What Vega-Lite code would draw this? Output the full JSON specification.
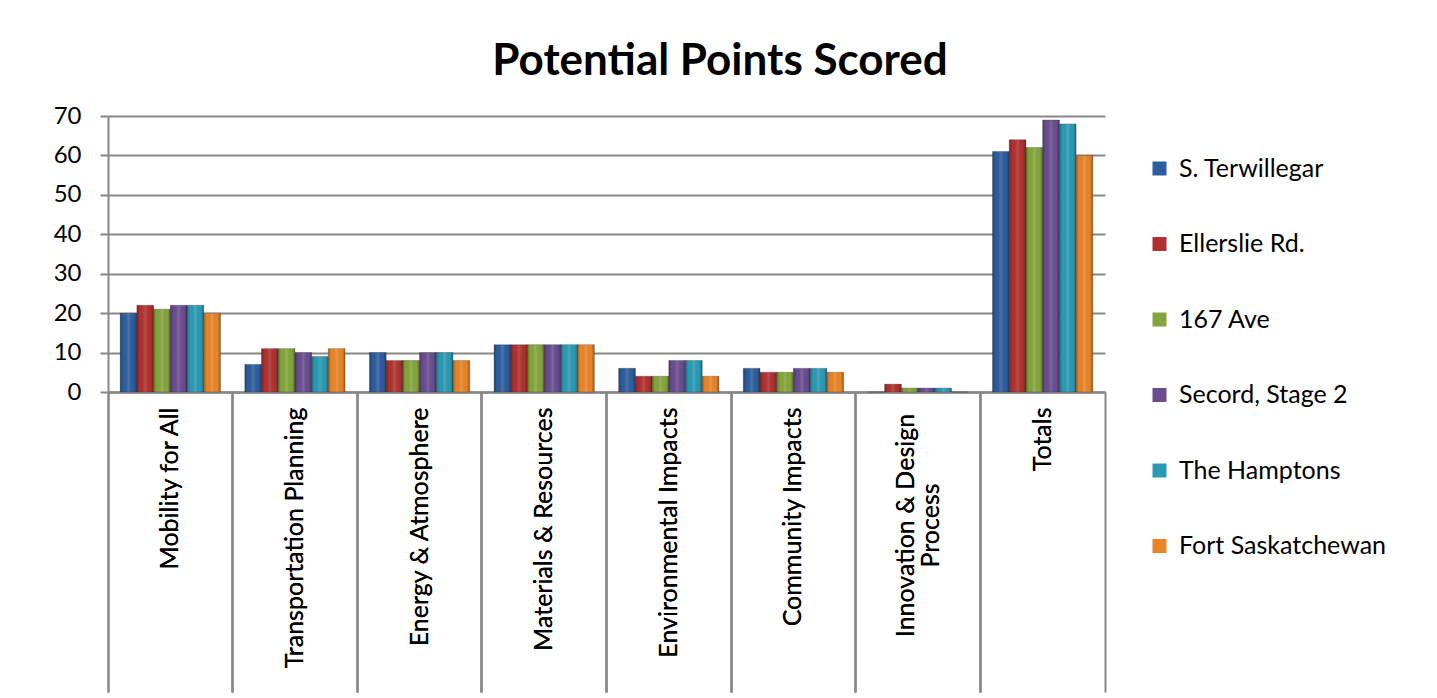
{
  "$schema": "https://vega.github.io/schema/vega-lite/v6.json",
  "width": 997,
  "height": 276,
  "padding": {"left": 53, "top": 40, "right": 0, "bottom": 0},
  "background": "white",
  "title": {
    "text": "Potential Points Scored",
    "font": "Lato",
    "fontSize": 44,
    "fontWeight": "bold",
    "color": "black",
    "anchor": "middle",
    "frame": "bounds",
    "offset": 20
  },
  "data": {
    "values": [
      {"category": "Mobility for All", "site": "S. Terwillegar", "points": 20},
      {"category": "Mobility for All", "site": "Ellerslie Rd.", "points": 22},
      {"category": "Mobility for All", "site": "167 Ave", "points": 21},
      {"category": "Mobility for All", "site": "Secord, Stage 2", "points": 22},
      {"category": "Mobility for All", "site": "The Hamptons", "points": 22},
      {"category": "Mobility for All", "site": "Fort Saskatchewan", "points": 20},
      {"category": "Transportation Planning", "site": "S. Terwillegar", "points": 7},
      {"category": "Transportation Planning", "site": "Ellerslie Rd.", "points": 11},
      {"category": "Transportation Planning", "site": "167 Ave", "points": 11},
      {"category": "Transportation Planning", "site": "Secord, Stage 2", "points": 10},
      {"category": "Transportation Planning", "site": "The Hamptons", "points": 9},
      {"category": "Transportation Planning", "site": "Fort Saskatchewan", "points": 11},
      {"category": "Energy & Atmosphere", "site": "S. Terwillegar", "points": 10},
      {"category": "Energy & Atmosphere", "site": "Ellerslie Rd.", "points": 8},
      {"category": "Energy & Atmosphere", "site": "167 Ave", "points": 8},
      {"category": "Energy & Atmosphere", "site": "Secord, Stage 2", "points": 10},
      {"category": "Energy & Atmosphere", "site": "The Hamptons", "points": 10},
      {"category": "Energy & Atmosphere", "site": "Fort Saskatchewan", "points": 8},
      {"category": "Materials & Resources", "site": "S. Terwillegar", "points": 12},
      {"category": "Materials & Resources", "site": "Ellerslie Rd.", "points": 12},
      {"category": "Materials & Resources", "site": "167 Ave", "points": 12},
      {"category": "Materials & Resources", "site": "Secord, Stage 2", "points": 12},
      {"category": "Materials & Resources", "site": "The Hamptons", "points": 12},
      {"category": "Materials & Resources", "site": "Fort Saskatchewan", "points": 12},
      {"category": "Environmental Impacts", "site": "S. Terwillegar", "points": 6},
      {"category": "Environmental Impacts", "site": "Ellerslie Rd.", "points": 4},
      {"category": "Environmental Impacts", "site": "167 Ave", "points": 4},
      {"category": "Environmental Impacts", "site": "Secord, Stage 2", "points": 8},
      {"category": "Environmental Impacts", "site": "The Hamptons", "points": 8},
      {"category": "Environmental Impacts", "site": "Fort Saskatchewan", "points": 4},
      {"category": "Community Impacts", "site": "S. Terwillegar", "points": 6},
      {"category": "Community Impacts", "site": "Ellerslie Rd.", "points": 5},
      {"category": "Community Impacts", "site": "167 Ave", "points": 5},
      {"category": "Community Impacts", "site": "Secord, Stage 2", "points": 6},
      {"category": "Community Impacts", "site": "The Hamptons", "points": 6},
      {"category": "Community Impacts", "site": "Fort Saskatchewan", "points": 5},
      {"category": "Innovation & Design Process", "site": "S. Terwillegar", "points": 0},
      {"category": "Innovation & Design Process", "site": "Ellerslie Rd.", "points": 2},
      {"category": "Innovation & Design Process", "site": "167 Ave", "points": 1},
      {"category": "Innovation & Design Process", "site": "Secord, Stage 2", "points": 1},
      {"category": "Innovation & Design Process", "site": "The Hamptons", "points": 1},
      {"category": "Innovation & Design Process", "site": "Fort Saskatchewan", "points": 0},
      {"category": "Totals", "site": "S. Terwillegar", "points": 61},
      {"category": "Totals", "site": "Ellerslie Rd.", "points": 64},
      {"category": "Totals", "site": "167 Ave", "points": 62},
      {"category": "Totals", "site": "Secord, Stage 2", "points": 69},
      {"category": "Totals", "site": "The Hamptons", "points": 68},
      {"category": "Totals", "site": "Fort Saskatchewan", "points": 60}
    ]
  },
  "encoding": {
    "x": {
      "field": "category",
      "type": "nominal",
      "sort": null,
      "scale": {"paddingInner": 0, "paddingOuter": 0},
      "axis": {
        "title": null,
        "orient": "bottom",
        "bandPosition": 0,
        "labelAngle": -90,
        "labelFont": "Lato",
        "labelFontSize": 25,
        "labelColor": "black",
        "labelAlign": {"condition": {"test": "datum.value == 'Innovation & Design Process'", "value": "center"}, "value": "right"},
        "labelPadding": {"condition": {"test": "datum.value == 'Innovation & Design Process'", "value": -167}, "value": -285},
        "labelOffset": {"condition": {"test": "datum.value == 'Innovation & Design Process'", "value": -12.5}, "value": 0},
        "labelLimit": 400,
        "labelLineHeight": 25,
        "labelExpr": "datum.label == 'Innovation & Design Process' ? ['Innovation & Design', 'Process'] : datum.label",
        "tickSize": 300,
        "tickColor": "#878787",
        "tickWidth": 2,
        "domainColor": "#878787",
        "domainWidth": 2
      }
    },
    "xOffset": {
      "field": "site",
      "sort": null,
      "scale": {"paddingInner": 0, "paddingOuter": 0.73}
    },
    "y": {
      "field": "points",
      "type": "quantitative",
      "scale": {"domain": [0, 70]},
      "axis": {
        "title": null,
        "values": [0, 10, 20, 30, 40, 50, 60, 70],
        "labelFont": "Lato",
        "labelFontSize": 24,
        "labelColor": "black",
        "labelPadding": 19,
        "tickSize": 8,
        "tickColor": "#878787",
        "tickWidth": 2,
        "domainColor": "#878787",
        "domainWidth": 2,
        "grid": true,
        "gridColor": "#878787",
        "gridWidth": 2
      }
    }
  },
  "layer": [
    {
      "mark": {"type": "bar", "stroke": "#3a3a3a", "strokeWidth": 0.6, "strokeOpacity": 0.5},
      "encoding": {
        "color": {
          "field": "site",
          "type": "nominal",
          "sort": null,
          "scale": {
            "domain": ["S. Terwillegar", "Ellerslie Rd.", "167 Ave", "Secord, Stage 2", "The Hamptons", "Fort Saskatchewan"],
            "range": ["#2C5D9E", "#B0302F", "#84A53B", "#6A4C91", "#2A9AB4", "#EA8427"]
          },
          "legend": {
            "title": null,
            "orient": "none",
            "legendX": 1039,
            "legendY": 40,
            "symbolType": "square",
            "symbolSize": 196,
            "symbolStrokeWidth": 0,
            "labelFont": "Lato",
            "labelFontSize": 25,
            "labelColor": "black",
            "labelOffset": 7,
            "labelLimit": 400,
            "rowPadding": 49.5
          }
        }
      }
    },
    {
      "mark": {
        "type": "bar",
        "color": {
          "gradient": "linear",
          "x1": 0, "x2": 1, "y1": 0, "y2": 0,
          "stops": [
            {"offset": 0, "color": "rgba(0,0,0,0.28)"},
            {"offset": 0.18, "color": "rgba(0,0,0,0)"},
            {"offset": 0.5, "color": "rgba(255,255,255,0.14)"},
            {"offset": 0.82, "color": "rgba(0,0,0,0)"},
            {"offset": 1, "color": "rgba(0,0,0,0.32)"}
          ]
        }
      }
    },
    {
      "mark": {"type": "bar", "opacity": 0},
      "encoding": {
        "x": {
          "field": "category",
          "type": "nominal",
          "sort": null,
          "axis": {
            "title": null,
            "orient": "bottom",
            "bandPosition": 1,
            "labels": false,
            "domain": false,
            "tickSize": 300,
            "tickColor": "#878787",
            "tickWidth": 2
          }
        }
      }
    }
  ],
  "resolve": {"axis": {"x": "independent"}},
  "config": {"view": {"stroke": null}}
}
